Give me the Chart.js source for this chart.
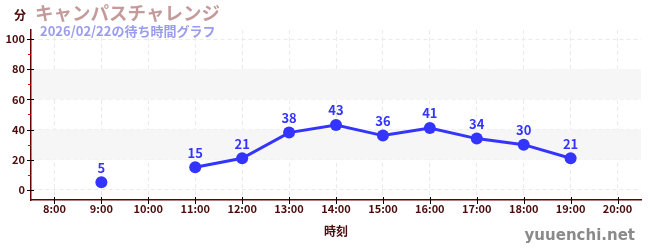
<!DOCTYPE html>
<html>
<head>
<meta charset="utf-8">
<script src="https://cdn.jsdelivr.net/npm/chart.js@4"></script>
<style>
  html, body { margin: 0; padding: 0; background: #fff; }
  #wrap { width: 650px; height: 250px; position: relative; }
</style>
</head>
<body>
<div id="wrap"><canvas id="c"></canvas></div>
<script>
// wait-time data
const hours = ['8:00', '9:00', '10:00', '11:00', '12:00', '13:00', '14:00', '15:00', '16:00', '17:00', '18:00', '19:00', '20:00'];
const waitMinutes = [null, 5, null, 15, 21, 38, 43, 36, 41, 34, 30, 21, null];
const yTicks = [0, 20, 40, 60, 80, 100];
const minorTicks = [10, 30, 50, 70, 90];
const bands = [[20, 40], [60, 80]];

const FONT = '"Noto Sans CJK JP", "Noto Sans", sans-serif';
const COLORS = {
  point: '#3434ff',
  tick: '#4a0b0b',
  axis: '#660000',
  grid: '#eaeaea',
  band: '#f6f6f6',
  title: '#c49a9a',
  subtitle: '#9a9cf0',
  watermark: '#8a8a8a',
};

const decorPlugin = {
  id: 'decor',
  beforeDatasetsDraw(chart) {
    const { ctx, chartArea: a, scales: { y } } = chart;
    ctx.save();
    ctx.fillStyle = COLORS.band;
    bands.forEach(([lo, hi]) => {
      const top = y.getPixelForValue(hi), bot = y.getPixelForValue(lo);
      ctx.fillRect(a.left + 1, top, a.right - a.left - 1, bot - top);
    });
    ctx.restore();
  },
  afterDraw(chart) {
    const { ctx, chartArea: a, scales: { x, y } } = chart;
    ctx.save();
    // y major and minor ticks
    ctx.lineWidth = 1;
    ctx.strokeStyle = '#000';
    yTicks.forEach(v => {
      const py = Math.round(y.getPixelForValue(v)) + 0.5;
      ctx.beginPath(); ctx.moveTo(a.left - 4, py); ctx.lineTo(a.left + 3, py); ctx.stroke();
    });
    ctx.strokeStyle = '#dd0000';
    minorTicks.forEach(v => {
      const py = Math.round(y.getPixelForValue(v)) + 0.5;
      ctx.beginPath(); ctx.moveTo(a.left - 3, py); ctx.lineTo(a.left, py); ctx.stroke();
    });
    // x ticks
    ctx.strokeStyle = '#000';
    hours.forEach((h, i) => {
      const px = Math.round(x.getPixelForValue(i)) + 0.5;
      ctx.beginPath(); ctx.moveTo(px, a.bottom - 3); ctx.lineTo(px, a.bottom + 4); ctx.stroke();
    });
    // value labels
    ctx.fillStyle = COLORS.point;
    ctx.font = 'bold 13px ' + FONT;
    ctx.textAlign = 'center';
    ctx.textBaseline = 'bottom';
    waitMinutes.forEach((v, i) => {
      if (v === null) return;
      ctx.fillText(String(v), x.getPixelForValue(i), y.getPixelForValue(v) - 8);
    });
    // titles
    ctx.textAlign = 'left';
    ctx.textBaseline = 'alphabetic';
    ctx.fillStyle = COLORS.tick;
    ctx.font = 'bold 12px ' + FONT;
    ctx.fillText('分', 14, 20);
    ctx.fillStyle = COLORS.title;
    ctx.font = 'bold 18.5px ' + FONT;
    ctx.fillText('キャンパスチャレンジ', 35, 20);
    ctx.fillStyle = COLORS.subtitle;
    ctx.font = 'bold 13px ' + FONT;
    ctx.fillText('2026/02/22の待ち時間グラフ', 40, 36);
    // axis title and watermark
    ctx.fillStyle = COLORS.tick;
    ctx.font = 'bold 12px ' + FONT;
    ctx.textAlign = 'center';
    ctx.fillText('時刻', (a.left + a.right) / 2, 236);
    ctx.fillStyle = COLORS.watermark;
    ctx.font = 'bold 15px "DejaVu Sans", sans-serif';
    ctx.textAlign = 'right';
    ctx.fillText('yuuenchi.net', 635, 240);
    ctx.restore();
  },
};

new Chart(document.getElementById('c'), {
  type: 'line',
  data: {
    labels: hours,
    datasets: [{
      data: waitMinutes,
      borderColor: COLORS.point,
      backgroundColor: COLORS.point,
      borderWidth: 3,
      pointRadius: 6,
      pointBorderWidth: 0,
      spanGaps: false,
      tension: 0,
    }],
  },
  options: {
    responsive: true,
    maintainAspectRatio: false,
    animation: false,
    layout: { padding: { top: 30, right: 9, left: 0, bottom: 0 } },
    plugins: { legend: { display: false }, tooltip: { enabled: false } },
    scales: {
      x: {
        type: 'category',
        offset: true,
        afterFit: s => { s.height = 50; },
        grid: { offset: false, color: COLORS.grid, drawTicks: false },
        border: { color: COLORS.axis, width: 1.5, dash: [4, 3] },
        ticks: { color: COLORS.tick, font: { family: FONT, size: 11, weight: 'bold' }, padding: 2, maxRotation: 0 },
      },
      y: {
        min: -6.7,
        max: 106,
        afterFit: s => { s.width = 31; },
        afterBuildTicks: s => { s.ticks = yTicks.map(v => ({ value: v })); },
        grid: { color: COLORS.grid, drawTicks: false },
        border: { color: COLORS.axis, width: 1.5, dash: [4, 3] },
        ticks: { color: COLORS.tick, font: { family: FONT, size: 11, weight: 'bold' }, padding: 6 },
      },
    },
  },
  plugins: [decorPlugin],
});
</script>
</body>
</html>
